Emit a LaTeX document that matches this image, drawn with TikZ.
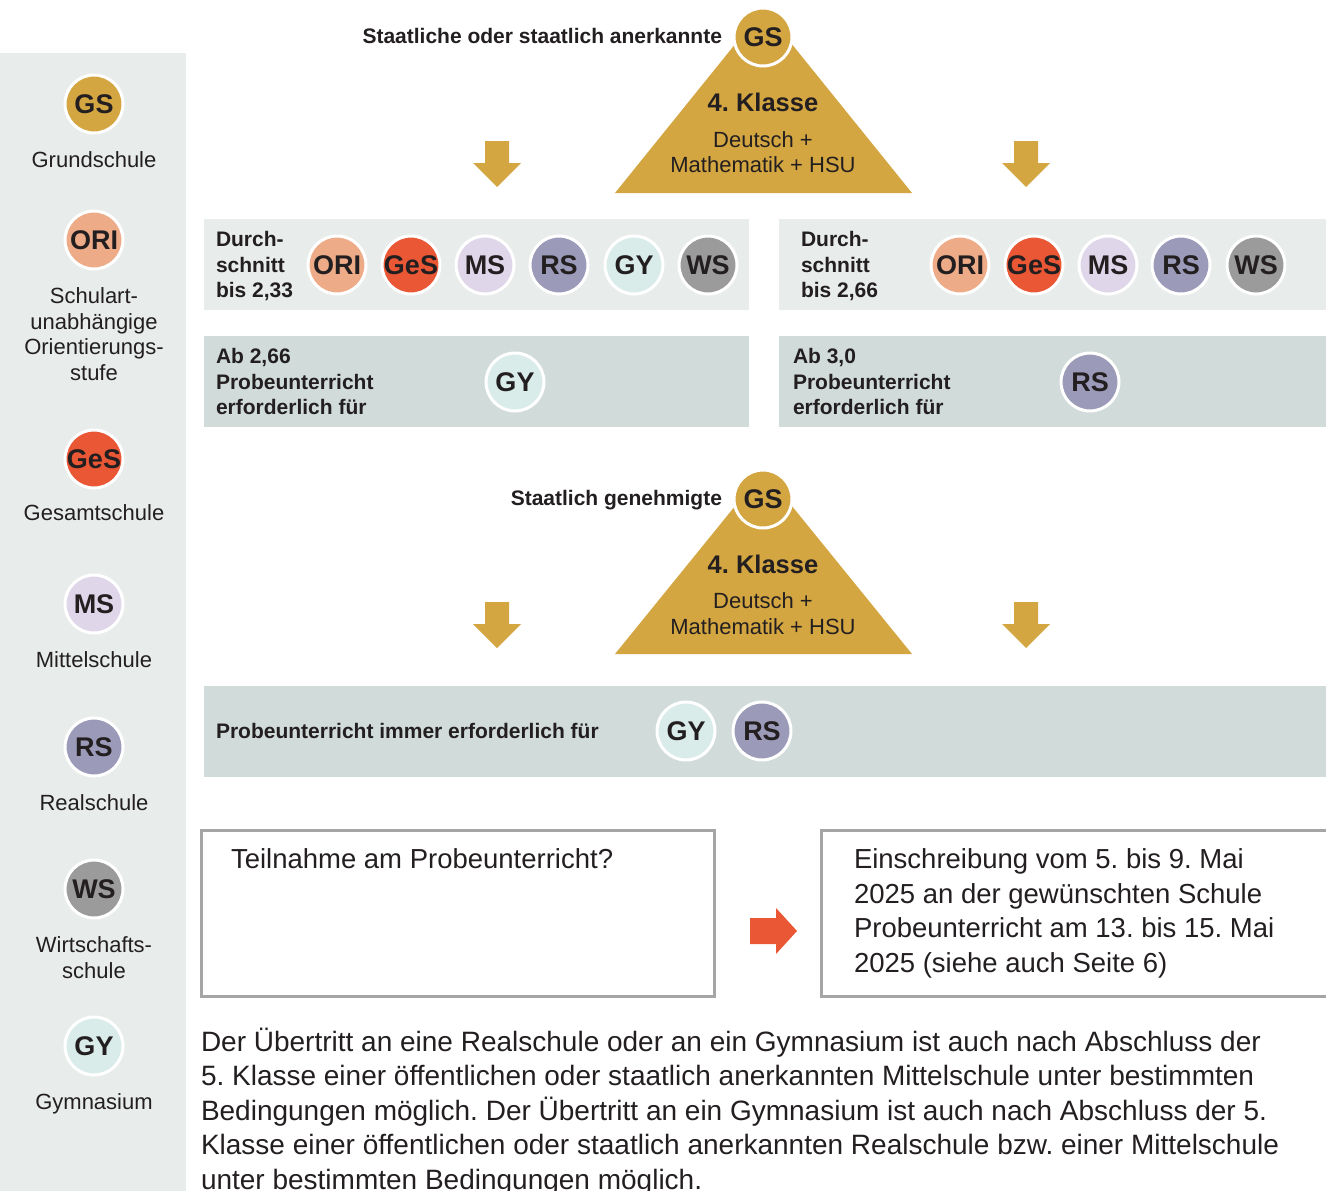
\documentclass[tikz,border=0pt]{standalone}
\usepackage{fontspec}
\setmainfont{Liberation Sans}
\definecolor{txt}{HTML}{231F20}
\definecolor{gold}{HTML}{D4A642}
\definecolor{ori}{HTML}{EDAB88}
\definecolor{ges}{HTML}{E95735}
\definecolor{ms}{HTML}{DFD6E9}
\definecolor{rs}{HTML}{9B9BB9}
\definecolor{gy}{HTML}{D9ECE9}
\definecolor{ws}{HTML}{9B9B9B}
\definecolor{lightp}{HTML}{E8ECEB}
\definecolor{darkp}{HTML}{D1DBD9}
\definecolor{boxline}{HTML}{A5A5A5}
\begin{document}
\frenchspacing
\begin{tikzpicture}[x=1pt,y=-1pt,
  every node/.style={inner sep=0pt, outer sep=0pt, text=txt},
  badge/.style={circle, minimum size=58pt, draw=white, line width=3pt,
    font=\fontsize{27}{27}\selectfont\bfseries},
  side/.style={anchor=north, align=center, font=\fontsize{22}{25.4}\selectfont},
  boldlbl/.style={font=\fontsize{21}{25.5}\selectfont\bfseries, align=left},
  tri/.style={font=\fontsize{22}{25}\selectfont},
  trihead/.style={font=\fontsize{25.5}{26}\selectfont\bfseries},
  lightpanel/.style={fill=lightp, anchor=north west},
  darkpanel/.style={fill=darkp, anchor=north west},
  infobox/.style={draw=boxline, line width=3pt, fill=white, anchor=north west},
  boxtext/.style={font=\fontsize{27.5}{34.5}\selectfont, align=left, anchor=north west},
  downarr/.pic={\fill[gold] (-12,0) -- (12,0) -- (12,22) -- (24,22) -- (0,46) -- (-24,22) -- (-12,22) -- cycle;}
]
\useasboundingbox (0,0) rectangle (1326,1191);
\fill[white] (0,0) rectangle (1326,1191);

% ---------- sidebar ----------
\node[fill=lightp, anchor=north west, minimum width=186pt, minimum height=1138pt] (sidebar) at (0,53) {};
\node[badge, fill=gold] (lgs) at (94,104) {GS};
\node[side] (lgst) at (94,152) {Grundschule};
\node[badge, fill=ori] (lori) at (94,240) {ORI};
\node[side] (lorit) at (94,288) {Schulart-\\unabhängige\\Orientierungs-\\stufe};
\node[badge, fill=ges] (lges) at (94,459) {GeS};
\node[side] (lgest) at (94,505) {Gesamtschule};
\node[badge, fill=ms] (lms) at (94,604) {MS};
\node[side] (lmst) at (94,652) {Mittelschule};
\node[badge, fill=rs] (lrs) at (94,747) {RS};
\node[side] (lrst) at (94,795) {Realschule};
\node[badge, fill=ws] (lws) at (94,889) {WS};
\node[side] (lwst) at (94,937) {Wirtschafts-\\schule};
\node[badge, fill=gy] (lgy) at (94,1046) {GY};
\node[side] (lgyt) at (94,1094) {Gymnasium};

% ---------- top triangle ----------
\fill[gold] (615,193) -- (763.5,9) -- (912,193) -- cycle;
\node[boldlbl, anchor=base east] (h1) at (722,43.5) {Staatliche oder staatlich anerkannte};
\node[badge, fill=gold] (gs1) at (763,37) {GS};
\node[trihead] (k1) at (763,102) {4. Klasse};
\node[tri] (d1) at (763,140) {Deutsch +};
\node[tri] (m1) at (763,165) {Mathematik + HSU};
\pic at (497,141) {downarr};
\pic at (1026,141) {downarr};

% ---------- row 1 ----------
\node[lightpanel, minimum width=545pt, minimum height=91pt] (p1l) at (204,219) {};
\node[lightpanel, minimum width=547pt, minimum height=91pt] (p1r) at (779,219) {};
\node[boldlbl, anchor=north west] (t1l) at (216,231.5) {Durch-\\schnitt\\bis 2,33};
\node[boldlbl, anchor=north west] (t1r) at (801,231.5) {Durch-\\schnitt\\bis 2,66};
\node[badge, fill=ori] (a1) at (337,265) {ORI};
\node[badge, fill=ges] (a2) at (411,265) {GeS};
\node[badge, fill=ms]  (a3) at (485,265) {MS};
\node[badge, fill=rs]  (a4) at (559,265) {RS};
\node[badge, fill=gy]  (a5) at (634,265) {GY};
\node[badge, fill=ws]  (a6) at (708,265) {WS};
\node[badge, fill=ori] (b1) at (960,265) {ORI};
\node[badge, fill=ges] (b2) at (1034,265) {GeS};
\node[badge, fill=ms]  (b3) at (1108,265) {MS};
\node[badge, fill=rs]  (b4) at (1181,265) {RS};
\node[badge, fill=ws]  (b5) at (1256,265) {WS};

% ---------- row 2 ----------
\node[darkpanel, minimum width=545pt, minimum height=91pt] (p2l) at (204,336) {};
\node[darkpanel, minimum width=547pt, minimum height=91pt] (p2r) at (779,336) {};
\node[boldlbl, anchor=north west] (t2l) at (216,348.5) {Ab 2,66\\Probeunterricht\\erforderlich für};
\node[boldlbl, anchor=north west] (t2r) at (793,348.5) {Ab 3,0\\Probeunterricht\\erforderlich für};
\node[badge, fill=gy] (c1) at (515,382) {GY};
\node[badge, fill=rs] (c2) at (1090,382) {RS};

% ---------- second triangle ----------
\fill[gold] (615,654) -- (763.5,471) -- (912,654) -- cycle;
\node[boldlbl, anchor=base east] (h2) at (722,505.5) {Staatlich genehmigte};
\node[badge, fill=gold] (gs2) at (763,499) {GS};
\node[trihead] (k2) at (763,564) {4. Klasse};
\node[tri] (d2) at (763,601) {Deutsch +};
\node[tri] (m2) at (763,627) {Mathematik + HSU};
\pic at (497,602) {downarr};
\pic at (1026,602) {downarr};

% ---------- row 3 ----------
\node[darkpanel, minimum width=1122pt, minimum height=91pt] (p3) at (204,686) {};
\node[boldlbl, anchor=base west] (t3) at (216,738.5) {Probeunterricht immer erforderlich für};
\node[badge, fill=gy] (e1) at (686,731) {GY};
\node[badge, fill=rs] (e2) at (762,731) {RS};

% ---------- info boxes ----------
\node[infobox, minimum width=513pt, minimum height=166pt] (bx1) at (201,830) {};
\node[infobox, minimum width=530pt, minimum height=166pt] (bx2) at (821,830) {};
\node[boxtext] (bx1t) at (231,849) {Teilnahme am Probeunterricht?};
\node[boxtext] (bx2t) at (854,849) {Einschreibung vom 5. bis 9. Mai\\2025 an der gewünschten Schule\\Probeunterricht am 13. bis 15. Mai\\2025 (siehe auch Seite 6)};
\fill[ges] (750,918) -- (776,918) -- (776,908) -- (797,931) -- (776,954) -- (776,944) -- (750,944) -- cycle;

% ---------- paragraph ----------
\node[anchor=north west, align=left, font=\fontsize{28}{34.5}\selectfont] (para) at (201,1028) {Der Übertritt an eine Realschule oder an ein Gymnasium ist auch nach Abschluss der\\5. Klasse einer öffentlichen oder staatlich anerkannten Mittelschule unter bestimmten\\Bedingungen möglich. Der Übertritt an ein Gymnasium ist auch nach Abschluss der 5.\\Klasse einer öffentlichen oder staatlich anerkannten Realschule bzw. einer Mittelschule\\unter bestimmten Bedingungen möglich.};
\end{tikzpicture}
\end{document}
